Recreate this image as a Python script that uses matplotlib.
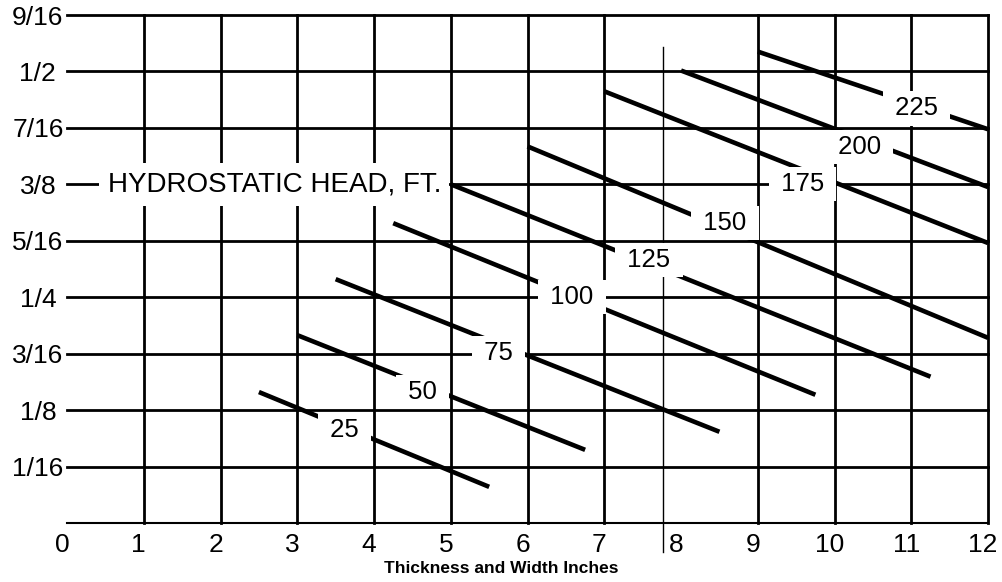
import matplotlib
matplotlib.use("Agg")
import matplotlib.pyplot as plt
import matplotlib.transforms as mtrans

plt.rcParams['font.family'] = ['Liberation Sans', 'DejaVu Sans']

# grid / axis values
x_ticks = [0, 1, 2, 3, 4, 5, 6, 7, 8, 9, 10, 11, 12]
x_grid = [1, 2, 3, 4, 5, 6, 7, 9, 10, 11, 12]   # no grid line at 8
y_ticks = [1/16, 1/8, 3/16, 1/4, 5/16, 3/8, 7/16, 1/2, 9/16]
y_labels = ['1/16', '1/8', '3/16', '1/4', '5/16', '3/8', '7/16', '1/2', '9/16']
ref_x = 7.77   # thin reference line

# hydrostatic head lines
heads = [25, 50, 75, 100, 125, 150, 175, 200, 225]
x_start = [2.5, 3.0, 3.5, 4.25, 5.0, 6.0, 7.0, 8.0, 9.0]
y_start = [0.145, 0.208, 0.270, 0.332, 0.375, 0.417, 0.478, 0.501, 0.522]
x_end = [5.5, 6.75, 8.5, 9.75, 11.25, 12, 12, 12, 12]
y_end = [0.040, 0.081, 0.101, 0.142, 0.162, 0.205, 0.310, 0.372, 0.436]
label_x = [3.62, 4.63, 5.62, 6.58, 7.58, 8.57, 9.58, 10.32, 11.07]
label_y = [0.103, 0.145, 0.188, 0.250, 0.291, 0.332, 0.375, 0.416, 0.459]

fig = plt.figure(figsize=(10.02, 5.82), dpi=100)
ax = fig.add_axes([0.0669, 0.1014, 0.9192, 0.8728])
ax.set_xlim(0, 12)
ax.set_ylim(0, 9/16)

for s in ax.spines.values():
    s.set_visible(False)

# grid
for x in x_grid:
    ax.plot([x, x], [0, 9/16], color='black', lw=2.0, zorder=1, clip_on=False)
for y in y_ticks:
    ax.plot([0, 12], [y, y], color='black', lw=2.0, zorder=1, clip_on=False)
ax.plot([0, 12], [0, 0], color='black', lw=1.5, zorder=1, clip_on=False)
ax.plot([ref_x, ref_x], [-0.032, 0.527], color='black', lw=1.0, zorder=1, clip_on=False)

# head lines
for xs, ys, xe, ye in zip(x_start, y_start, x_end, y_end):
    ax.plot([xs, xe], [ys, ye], color='black', lw=3.3, solid_capstyle='butt',
            zorder=2, clip_on=False)

for h, lx, ly in zip(heads, label_x, label_y):
    ax.text(lx, ly, ' %d ' % h, fontsize=18.5, ha='center', va='center', zorder=3,
            bbox=dict(boxstyle='square,pad=0.2', fc='white', ec='none'))

ax.text(0.53, 3/8, 'HYDROSTATIC HEAD, FT.', fontsize=20, ha='left', va='center',
        zorder=3, bbox=dict(boxstyle='square,pad=0.3', fc='white', ec='none'))

# ticks
ax.set_xticks(x_ticks)
ax.set_xticklabels([str(t) for t in x_ticks], fontsize=19)
ax.set_yticks(y_ticks)
ax.set_yticklabels(y_labels, fontsize=19)
ax.tick_params(axis='both', length=0)
ax.tick_params(axis='x', pad=7)
ax.tick_params(axis='y', pad=21)
shift = mtrans.ScaledTranslation(-5/100, 0, fig.dpi_scale_trans)
for lab in ax.get_xticklabels():
    lab.set_transform(lab.get_transform() + shift)
for lab in ax.get_yticklabels():
    lab.set_horizontalalignment('center')

ax.set_xlabel('Thickness and Width Inches', fontsize=12.5, fontweight='bold')
ax.xaxis.set_label_coords(0.471, -0.074)

fig.savefig('out.png', dpi=100)
